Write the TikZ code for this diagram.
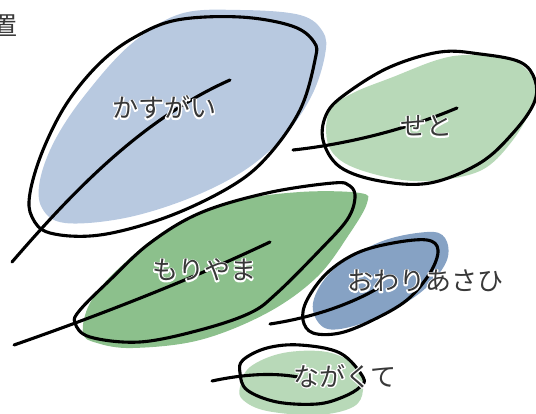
\documentclass[tikz,border=0pt]{standalone}
\usepackage{fontspec}
\newfontfamily\jpfont{Noto Sans CJK JP}
\definecolor{leafblue}{HTML}{B8C9E0}
\definecolor{leafgreen}{HTML}{B8D9B8}
\definecolor{leafdarkgreen}{HTML}{8CC08C}
\definecolor{leafdarkblue}{HTML}{86A2C4}
\definecolor{labelgray}{HTML}{383838}
% label with a white outline stroked behind the glyphs
\newcommand\halolabel[3]{%
  \node[leaflabel] at (#2) {\special{pdf:literal direct q 1 Tr 1 1 1 RG 2.6 w 1 j 1 J}#3\special{pdf:literal direct Q}};
  \node[leaflabel] (#1) at (#2) {#3};}
\begin{document}
\begin{tikzpicture}[x=1pt,y=-1pt,
  leaflabel/.style={font=\jpfont\fontsize{26}{30}\selectfont,text=labelgray,inner sep=0pt,anchor=base},
  leafline/.style={draw=black,line width=3.1pt,line join=round},
  stemline/.style={draw=black,line width=3.1pt,line cap=round}]
\useasboundingbox (0,0) rectangle (536,414);

% coloured leaf bodies
\fill[leafblue] plot[smooth cycle,tension=0.6] coordinates {(180,14) (240,10) (300,15) (323,32) (325,55) (312,95) (285,135) (245,170) (190,198) (125,218) (65,223) (42,208) (40,180) (55,140) (85,95) (130,45)};
\fill[leafgreen] plot[smooth cycle,tension=0.6] coordinates {(437,60) (467,55) (507,58) (527,70) (540,90) (533,107) (513,140) (487,167) (455,178) (413,181) (370,173) (340,160) (327,140) (330,110) (353,93) (393,77)};
\fill[leafdarkgreen] plot[smooth cycle,tension=0.6] coordinates {(360,193) (367,203) (350,233) (317,277) (267,313) (200,340) (133,348) (97,343) (83,333) (90,303) (117,270) (167,230) (233,202) (300,192)};
\fill[leafdarkblue] plot[smooth cycle,tension=0.6] coordinates {(427,232) (445,238) (447,260) (427,287) (393,310) (350,327) (323,327) (313,303) (333,270) (380,242)};
\fill[leafgreen] plot[smooth cycle,tension=0.6] coordinates {(240,387) (250,367) (283,353) (327,352) (357,367) (363,390) (353,407) (317,415) (267,411) (243,400)};

% leaf outlines
\draw[leafline] plot[smooth cycle,tension=0.6] coordinates {(177,20) (240,17) (292,26) (314,42) (315,60) (300,110) (267,157) (230,187) (167,217) (100,235) (50,233) (32,217) (30,193) (43,150) (67,103) (100,63) (135,37)};
\draw[leafline] plot[smooth cycle,tension=0.6] coordinates {(440,52) (480,54) (520,62) (535,80) (534,103) (513,133) (480,163) (430,183) (380,181) (340,167) (323,140) (327,113) (347,93) (390,67)};
\draw[leafline] plot[smooth cycle,tension=0.6] coordinates {(333,183) (350,186) (355,198) (347,220) (320,250) (277,293) (250,313) (200,330) (140,342) (90,337) (75,323) (80,310) (110,280) (150,243) (200,213) (267,193)};
\draw[leafline] plot[smooth cycle,tension=0.6] coordinates {(427,240) (438,250) (430,273) (407,300) (373,320) (340,333) (313,333) (303,320) (307,300) (327,273) (357,253) (393,243)};
\draw[leafline] plot[smooth cycle,tension=0.6] coordinates {(243,360) (267,348) (300,345) (340,353) (363,377) (360,387) (343,397) (317,404) (277,402) (247,390) (240,373)};

% stems
\coordinate (s1a) at (12,262);  \coordinate (s1b) at (230,80);
\coordinate (s2a) at (293,150); \coordinate (s2b) at (457,108);
\coordinate (s3a) at (14,345);  \coordinate (s3b) at (270,242);
\coordinate (s4a) at (270,324); \coordinate (s4b) at (380,287);
\coordinate (s5a) at (212,381); \coordinate (s5b) at (298,377);
\draw[stemline] (s1a) .. controls (70,195) and (140,120) .. (s1b);
\draw[stemline] (s2a) .. controls (340,145) and (400,132) .. (s2b);
\draw[stemline] (s3a) .. controls (100,315) and (190,280) .. (s3b);
\draw[stemline] (s4a) .. controls (310,318) and (350,305) .. (s4b);
\draw[stemline] (s5a) .. controls (240,375) and (270,372) .. (s5b);

% labels
\coordinate (p0) at (4,36);
\coordinate (p1) at (164,118);
\coordinate (p2) at (426,136);
\coordinate (p3) at (204,280);
\coordinate (p4) at (425,291);
\coordinate (p5) at (345,386);
\halolabel{t0}{p0}{置}
\halolabel{t1}{p1}{かすがい}
\halolabel{t2}{p2}{せと}
\halolabel{t3}{p3}{もりやま}
\halolabel{t4}{p4}{おわりあさひ}
\halolabel{t5}{p5}{ながくて}
\end{tikzpicture}
\end{document}
